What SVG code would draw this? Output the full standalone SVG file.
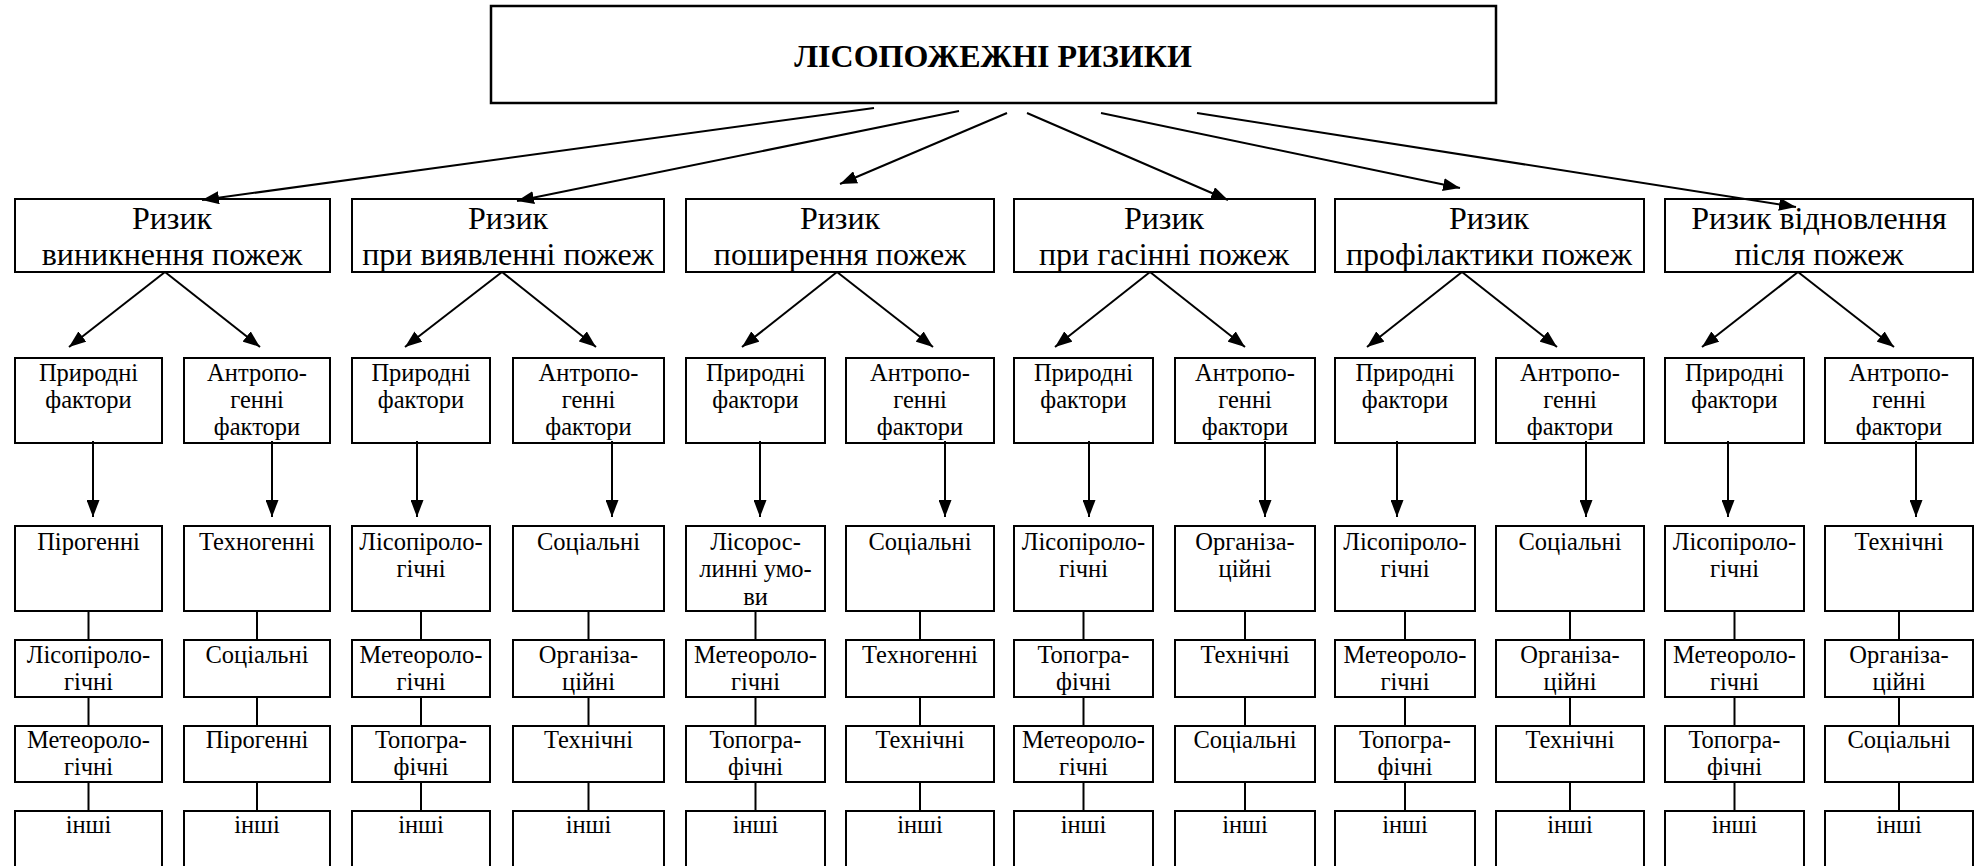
<svg xmlns="http://www.w3.org/2000/svg" width="1986" height="866" viewBox="0 0 1986 866" font-family="Liberation Serif, DejaVu Serif, serif">
<style>
rect{fill:#fff;stroke:#000;stroke-width:2}
text{font-family:"Liberation Serif","DejaVu Serif","Times New Roman",serif;fill:#000;text-anchor:middle}
.l1{font-size:32px}
.s{font-size:24.5px}
.ttl{font-size:32px;font-weight:bold}
.c line{stroke:#000;stroke-width:2}
.a{marker-end:url(#ah)}
</style>
<defs>
<marker id="ah" viewBox="0 0 17 13" refX="17" refY="6.5" markerWidth="17" markerHeight="13" markerUnits="userSpaceOnUse" orient="auto"><path d="M0,0 L17,6.5 L0,13 Z" fill="#000"/></marker>
</defs>
<g id="title"><rect x="491" y="6" width="1005" height="97" style="stroke-width:2.5"/><text class="ttl" x="993" y="67">ЛІСОПОЖЕЖНІ РИЗИКИ</text></g>

<g id="r1"><rect x="15" y="199" width="315" height="73"/><text class="l1" x="172" y="229">Ризик</text><text class="l1" x="172" y="265">виникнення пожеж</text></g>
<g id="r2"><rect x="352" y="199" width="312" height="73"/><text class="l1" x="508" y="229">Ризик</text><text class="l1" x="508" y="265">при виявленні пожеж</text></g>
<g id="r3"><rect x="686" y="199" width="308" height="73"/><text class="l1" x="840" y="229">Ризик</text><text class="l1" x="840" y="265">поширення пожеж</text></g>
<g id="r4"><rect x="1014" y="199" width="301" height="73"/><text class="l1" x="1164" y="229">Ризик</text><text class="l1" x="1164" y="265">при гасінні пожеж</text></g>
<g id="r5"><rect x="1335" y="199" width="309" height="73"/><text class="l1" x="1489" y="229">Ризик</text><text class="l1" x="1489" y="265">профілактики пожеж</text></g>
<g id="r6"><rect x="1665" y="199" width="308" height="73"/><text class="l1" x="1819" y="229">Ризик відновлення</text><text class="l1" x="1819" y="265">після пожеж</text></g>

<g id="g1n"><rect x="15" y="358" width="147" height="85"/><text class="s" x="88.5" y="381">Природні</text><text class="s" x="88.5" y="408">фактори</text></g>
<g id="g1a"><rect x="184" y="358" width="146" height="85"/><text class="s" x="257" y="381">Антропо-</text><text class="s" x="257" y="408">генні</text><text class="s" x="257" y="435">фактори</text></g>
<g id="g2n"><rect x="352" y="358" width="138" height="85"/><text class="s" x="421" y="381">Природні</text><text class="s" x="421" y="408">фактори</text></g>
<g id="g2a"><rect x="513" y="358" width="151" height="85"/><text class="s" x="588.5" y="381">Антропо-</text><text class="s" x="588.5" y="408">генні</text><text class="s" x="588.5" y="435">фактори</text></g>
<g id="g3n"><rect x="686" y="358" width="139" height="85"/><text class="s" x="755.5" y="381">Природні</text><text class="s" x="755.5" y="408">фактори</text></g>
<g id="g3a"><rect x="846" y="358" width="148" height="85"/><text class="s" x="920" y="381">Антропо-</text><text class="s" x="920" y="408">генні</text><text class="s" x="920" y="435">фактори</text></g>
<g id="g4n"><rect x="1014" y="358" width="139" height="85"/><text class="s" x="1083.5" y="381">Природні</text><text class="s" x="1083.5" y="408">фактори</text></g>
<g id="g4a"><rect x="1175" y="358" width="140" height="85"/><text class="s" x="1245" y="381">Антропо-</text><text class="s" x="1245" y="408">генні</text><text class="s" x="1245" y="435">фактори</text></g>
<g id="g5n"><rect x="1335" y="358" width="140" height="85"/><text class="s" x="1405" y="381">Природні</text><text class="s" x="1405" y="408">фактори</text></g>
<g id="g5a"><rect x="1496" y="358" width="148" height="85"/><text class="s" x="1570" y="381">Антропо-</text><text class="s" x="1570" y="408">генні</text><text class="s" x="1570" y="435">фактори</text></g>
<g id="g6n"><rect x="1665" y="358" width="139" height="85"/><text class="s" x="1734.5" y="381">Природні</text><text class="s" x="1734.5" y="408">фактори</text></g>
<g id="g6a"><rect x="1825" y="358" width="148" height="85"/><text class="s" x="1899" y="381">Антропо-</text><text class="s" x="1899" y="408">генні</text><text class="s" x="1899" y="435">фактори</text></g>

<g class="c" id="connectors">
<line class="a" x1="874" y1="108" x2="202" y2="200"/>
<line class="a" x1="959" y1="111" x2="517" y2="201"/>
<line class="a" x1="1007" y1="113" x2="840" y2="184"/>
<line class="a" x1="1027" y1="113" x2="1228" y2="200"/>
<line class="a" x1="1101" y1="113" x2="1460" y2="188"/>
<line class="a" x1="1197" y1="113" x2="1796" y2="207"/>

<line class="a" x1="165" y1="272" x2="69" y2="347"/><line class="a" x1="165" y1="272" x2="260" y2="347"/>
<line class="a" x1="502" y1="272" x2="405" y2="347"/><line class="a" x1="502" y1="272" x2="596" y2="347"/>
<line class="a" x1="837" y1="272" x2="742" y2="347"/><line class="a" x1="837" y1="272" x2="933" y2="347"/>
<line class="a" x1="1150" y1="272" x2="1055" y2="347"/><line class="a" x1="1150" y1="272" x2="1245" y2="347"/>
<line class="a" x1="1462" y1="272" x2="1367" y2="347"/><line class="a" x1="1462" y1="272" x2="1557" y2="347"/>
<line class="a" x1="1798" y1="272" x2="1702" y2="347"/><line class="a" x1="1798" y1="272" x2="1894" y2="347"/>

<line class="a" x1="93" y1="441" x2="93" y2="517"/><line class="a" x1="272" y1="441" x2="272" y2="517"/>
<line class="a" x1="417" y1="441" x2="417" y2="517"/><line class="a" x1="612" y1="441" x2="612" y2="517"/>
<line class="a" x1="760" y1="441" x2="760" y2="517"/><line class="a" x1="945" y1="441" x2="945" y2="517"/>
<line class="a" x1="1089" y1="441" x2="1089" y2="517"/><line class="a" x1="1265" y1="441" x2="1265" y2="517"/>
<line class="a" x1="1397" y1="441" x2="1397" y2="517"/><line class="a" x1="1586" y1="441" x2="1586" y2="517"/>
<line class="a" x1="1728" y1="441" x2="1728" y2="517"/><line class="a" x1="1916" y1="441" x2="1916" y2="517"/>

<line x1="88.5" y1="611" x2="88.5" y2="811"/><line x1="257" y1="611" x2="257" y2="811"/>
<line x1="421" y1="611" x2="421" y2="811"/><line x1="588.5" y1="611" x2="588.5" y2="811"/>
<line x1="755.5" y1="611" x2="755.5" y2="811"/><line x1="920" y1="611" x2="920" y2="811"/>
<line x1="1083.5" y1="611" x2="1083.5" y2="811"/><line x1="1245" y1="611" x2="1245" y2="811"/>
<line x1="1405" y1="611" x2="1405" y2="811"/><line x1="1570" y1="611" x2="1570" y2="811"/>
<line x1="1734.5" y1="611" x2="1734.5" y2="811"/><line x1="1899" y1="611" x2="1899" y2="811"/>
</g>

<g id="c1l3"><rect x="15" y="526" width="147" height="85"/><text class="s" x="88.5" y="550">Пірогенні</text></g>
<g id="c1l4"><rect x="15" y="640" width="147" height="57"/><text class="s" x="88.5" y="663">Лісопіроло-</text><text class="s" x="88.5" y="690">гічні</text></g>
<g id="c1l5"><rect x="15" y="726" width="147" height="56"/><text class="s" x="88.5" y="748">Метеороло-</text><text class="s" x="88.5" y="775">гічні</text></g>
<g id="c1l6"><rect x="15" y="811" width="147" height="70"/><text class="s" x="88.5" y="833">інші</text></g>

<g id="c2l3"><rect x="184" y="526" width="146" height="85"/><text class="s" x="257" y="550">Техногенні</text></g>
<g id="c2l4"><rect x="184" y="640" width="146" height="57"/><text class="s" x="257" y="663">Соціальні</text></g>
<g id="c2l5"><rect x="184" y="726" width="146" height="56"/><text class="s" x="257" y="748">Пірогенні</text></g>
<g id="c2l6"><rect x="184" y="811" width="146" height="70"/><text class="s" x="257" y="833">інші</text></g>

<g id="c3l3"><rect x="352" y="526" width="138" height="85"/><text class="s" x="421" y="550">Лісопіроло-</text><text class="s" x="421" y="577">гічні</text></g>
<g id="c3l4"><rect x="352" y="640" width="138" height="57"/><text class="s" x="421" y="663">Метеороло-</text><text class="s" x="421" y="690">гічні</text></g>
<g id="c3l5"><rect x="352" y="726" width="138" height="56"/><text class="s" x="421" y="748">Топогра-</text><text class="s" x="421" y="775">фічні</text></g>
<g id="c3l6"><rect x="352" y="811" width="138" height="70"/><text class="s" x="421" y="833">інші</text></g>

<g id="c4l3"><rect x="513" y="526" width="151" height="85"/><text class="s" x="588.5" y="550">Соціальні</text></g>
<g id="c4l4"><rect x="513" y="640" width="151" height="57"/><text class="s" x="588.5" y="663">Організа-</text><text class="s" x="588.5" y="690">ційні</text></g>
<g id="c4l5"><rect x="513" y="726" width="151" height="56"/><text class="s" x="588.5" y="748">Технічні</text></g>
<g id="c4l6"><rect x="513" y="811" width="151" height="70"/><text class="s" x="588.5" y="833">інші</text></g>

<g id="c5l3"><rect x="686" y="526" width="139" height="85"/><text class="s" x="755.5" y="550">Лісорос-</text><text class="s" x="755.5" y="577">линні умо-</text><text class="s" x="755.5" y="605">ви</text></g>
<g id="c5l4"><rect x="686" y="640" width="139" height="57"/><text class="s" x="755.5" y="663">Метеороло-</text><text class="s" x="755.5" y="690">гічні</text></g>
<g id="c5l5"><rect x="686" y="726" width="139" height="56"/><text class="s" x="755.5" y="748">Топогра-</text><text class="s" x="755.5" y="775">фічні</text></g>
<g id="c5l6"><rect x="686" y="811" width="139" height="70"/><text class="s" x="755.5" y="833">інші</text></g>

<g id="c6l3"><rect x="846" y="526" width="148" height="85"/><text class="s" x="920" y="550">Соціальні</text></g>
<g id="c6l4"><rect x="846" y="640" width="148" height="57"/><text class="s" x="920" y="663">Техногенні</text></g>
<g id="c6l5"><rect x="846" y="726" width="148" height="56"/><text class="s" x="920" y="748">Технічні</text></g>
<g id="c6l6"><rect x="846" y="811" width="148" height="70"/><text class="s" x="920" y="833">інші</text></g>

<g id="c7l3"><rect x="1014" y="526" width="139" height="85"/><text class="s" x="1083.5" y="550">Лісопіроло-</text><text class="s" x="1083.5" y="577">гічні</text></g>
<g id="c7l4"><rect x="1014" y="640" width="139" height="57"/><text class="s" x="1083.5" y="663">Топогра-</text><text class="s" x="1083.5" y="690">фічні</text></g>
<g id="c7l5"><rect x="1014" y="726" width="139" height="56"/><text class="s" x="1083.5" y="748">Метеороло-</text><text class="s" x="1083.5" y="775">гічні</text></g>
<g id="c7l6"><rect x="1014" y="811" width="139" height="70"/><text class="s" x="1083.5" y="833">інші</text></g>

<g id="c8l3"><rect x="1175" y="526" width="140" height="85"/><text class="s" x="1245" y="550">Організа-</text><text class="s" x="1245" y="577">ційні</text></g>
<g id="c8l4"><rect x="1175" y="640" width="140" height="57"/><text class="s" x="1245" y="663">Технічні</text></g>
<g id="c8l5"><rect x="1175" y="726" width="140" height="56"/><text class="s" x="1245" y="748">Соціальні</text></g>
<g id="c8l6"><rect x="1175" y="811" width="140" height="70"/><text class="s" x="1245" y="833">інші</text></g>

<g id="c9l3"><rect x="1335" y="526" width="140" height="85"/><text class="s" x="1405" y="550">Лісопіроло-</text><text class="s" x="1405" y="577">гічні</text></g>
<g id="c9l4"><rect x="1335" y="640" width="140" height="57"/><text class="s" x="1405" y="663">Метеороло-</text><text class="s" x="1405" y="690">гічні</text></g>
<g id="c9l5"><rect x="1335" y="726" width="140" height="56"/><text class="s" x="1405" y="748">Топогра-</text><text class="s" x="1405" y="775">фічні</text></g>
<g id="c9l6"><rect x="1335" y="811" width="140" height="70"/><text class="s" x="1405" y="833">інші</text></g>

<g id="c10l3"><rect x="1496" y="526" width="148" height="85"/><text class="s" x="1570" y="550">Соціальні</text></g>
<g id="c10l4"><rect x="1496" y="640" width="148" height="57"/><text class="s" x="1570" y="663">Організа-</text><text class="s" x="1570" y="690">ційні</text></g>
<g id="c10l5"><rect x="1496" y="726" width="148" height="56"/><text class="s" x="1570" y="748">Технічні</text></g>
<g id="c10l6"><rect x="1496" y="811" width="148" height="70"/><text class="s" x="1570" y="833">інші</text></g>

<g id="c11l3"><rect x="1665" y="526" width="139" height="85"/><text class="s" x="1734.5" y="550">Лісопіроло-</text><text class="s" x="1734.5" y="577">гічні</text></g>
<g id="c11l4"><rect x="1665" y="640" width="139" height="57"/><text class="s" x="1734.5" y="663">Метеороло-</text><text class="s" x="1734.5" y="690">гічні</text></g>
<g id="c11l5"><rect x="1665" y="726" width="139" height="56"/><text class="s" x="1734.5" y="748">Топогра-</text><text class="s" x="1734.5" y="775">фічні</text></g>
<g id="c11l6"><rect x="1665" y="811" width="139" height="70"/><text class="s" x="1734.5" y="833">інші</text></g>

<g id="c12l3"><rect x="1825" y="526" width="148" height="85"/><text class="s" x="1899" y="550">Технічні</text></g>
<g id="c12l4"><rect x="1825" y="640" width="148" height="57"/><text class="s" x="1899" y="663">Організа-</text><text class="s" x="1899" y="690">ційні</text></g>
<g id="c12l5"><rect x="1825" y="726" width="148" height="56"/><text class="s" x="1899" y="748">Соціальні</text></g>
<g id="c12l6"><rect x="1825" y="811" width="148" height="70"/><text class="s" x="1899" y="833">інші</text></g>
</svg>
